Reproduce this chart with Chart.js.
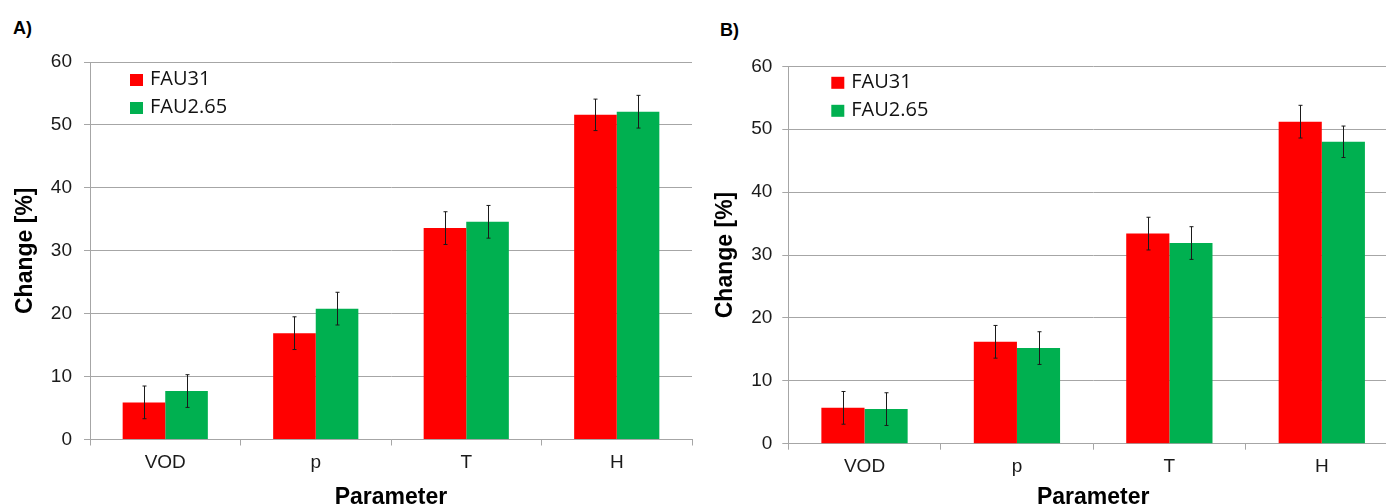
<!DOCTYPE html>
<html>
<head>
<meta charset="utf-8">
<script src="https://cdn.jsdelivr.net/npm/chart.js@4.4.1/dist/chart.umd.min.js"></script>
<style>
  html, body { margin: 0; padding: 0; background: #fff; overflow: hidden; width: 1386px; height: 504px; }
  .panel { position: absolute; top: 0; height: 515px; }
  #panelA { left: 0; width: 700px; }
  #panelB { left: 700px; width: 700px; }
  .tag { position: absolute; font: bold 18px "Liberation Sans", Arial, sans-serif; color: #000; line-height: 1; }
</style>
</head>
<body>
<div class="tag" style="left:13px; top:19px;">A)</div>
<div class="tag" style="left:720px; top:21px;">B)</div>
<div class="panel" id="panelA"><canvas id="chartA"></canvas></div>
<div class="panel" id="panelB"><canvas id="chartB"></canvas></div>
<script>
const categories = ['VOD', 'p', 'T', 'H'];
const seriesNames = ['FAU31', 'FAU2.65'];
const seriesColors = ['#ff0000', '#00b050'];

// panel A
const aFau31 = [5.9, 16.9, 33.6, 51.6];
const aFau31Err = [2.6, 2.6, 2.6, 2.5];
const aFau265 = [7.7, 20.8, 34.6, 52.1];
const aFau265Err = [2.6, 2.6, 2.6, 2.6];

// panel B
const bFau31 = [5.7, 16.2, 33.4, 51.2];
const bFau31Err = [2.6, 2.6, 2.6, 2.6];
const bFau265 = [5.5, 15.2, 31.9, 48.0];
const bFau265Err = [2.6, 2.6, 2.6, 2.5];

const yMin = 0, yMax = 60, yStep = 10;

const axisFont = '"Liberation Sans", Arial, sans-serif';
const gridColor = '#a6a6a6';

// error bars drawn from the y scale
const errorBars = {
  id: 'errorBars',
  afterDatasetsDraw(chart) {
    const ctx = chart.ctx;
    const y = chart.scales.y;
    ctx.save();
    ctx.strokeStyle = '#1a1a1a';
    ctx.lineWidth = 1;
    chart.data.datasets.forEach((ds, i) => {
      chart.getDatasetMeta(i).data.forEach((bar, j) => {
        const v = ds.data[j], e = ds.errors[j];
        const top = y.getPixelForValue(v + e);
        const bot = y.getPixelForValue(v - e);
        const x = Math.round(bar.x) + 0.5;
        ctx.beginPath();
        ctx.moveTo(x, top); ctx.lineTo(x, bot);
        ctx.moveTo(x - 2, top); ctx.lineTo(x + 2, top);
        ctx.moveTo(x - 2, bot); ctx.lineTo(x + 2, bot);
        ctx.stroke();
      });
    });
    ctx.restore();
  }
};

// legend inside the plot, top left
const insideLegend = {
  id: 'insideLegend',
  afterDraw(chart, args, opts) {
    const ctx = chart.ctx;
    const area = chart.chartArea;
    ctx.save();
    ctx.font = '20px "Open Sans", sans-serif';
    ctx.textBaseline = 'middle';
    chart.data.datasets.forEach((ds, i) => {
      const x = area.left + opts.dx;
      const y = area.top + opts.dy + i * 28;
      ctx.fillStyle = ds.backgroundColor;
      ctx.fillRect(x, y, 13, 12);
      ctx.fillStyle = '#111';
      ctx.fillText(ds.label, x + 20, y + 5);
    });
    ctx.restore();
  }
};

function makeChart(id, s1, e1, s2, e2, p) {
  return new Chart(document.getElementById(id), {
    type: 'bar',
    data: {
      labels: categories,
      datasets: [
        { label: seriesNames[0], data: s1, errors: e1, backgroundColor: seriesColors[0] },
        { label: seriesNames[1], data: s2, errors: e2, backgroundColor: seriesColors[1] }
      ]
    },
    options: {
      responsive: true,
      maintainAspectRatio: false,
      animation: false,
      datasets: { bar: { barPercentage: 1, categoryPercentage: 0.566, borderWidth: 0 } },
      layout: { padding: { left: 0, top: p.top, right: p.right, bottom: 0 } },
      plugins: {
        legend: { display: false },
        tooltip: { enabled: false },
        insideLegend: { dx: p.legX, dy: p.legY }
      },
      scales: {
        x: {
          grid: { display: true, drawOnChartArea: false, drawTicks: true, tickLength: 6, color: gridColor, offset: true },
          border: { color: gridColor },
          ticks: { font: { family: axisFont, size: 19 }, color: '#1a1a1a', padding: 6 },
          title: { display: true, text: 'Parameter', color: '#000',
                   font: { family: axisFont, size: 23, weight: 'bold' }, padding: { top: 0, bottom: 4 } },
          afterFit: s => { s.height = p.xh; }
        },
        y: {
          min: yMin, max: yMax,
          ticks: { stepSize: yStep, font: { family: axisFont, size: 19 }, color: '#1a1a1a', padding: p.tickPad },
          grid: { color: gridColor, tickLength: 6 },
          border: { color: gridColor },
          title: { display: true, text: 'Change [%]', color: '#000',
                   font: { family: axisFont, size: 23, weight: 'bold' }, padding: { top: p.titlePad, bottom: 0 } },
          afterFit: s => { s.width = p.yw; }
        }
      }
    },
    plugins: [errorBars, insideLegend]
  });
}

makeChart('chartA', aFau31, aFau31Err, aFau265, aFau265Err,
  { top: 62, right: 8, xh: 75.5, yw: 90, tickPad: 12, titlePad: 12, legX: 40, legY: 12 });
makeChart('chartB', bFau31, bFau31Err, bFau265, bFau265Err,
  { top: 66.3, right: 2, xh: 71.3, yw: 88.3, tickPad: 10, titlePad: 12, legX: 43, legY: 10.5 });
</script>
</body>
</html>
